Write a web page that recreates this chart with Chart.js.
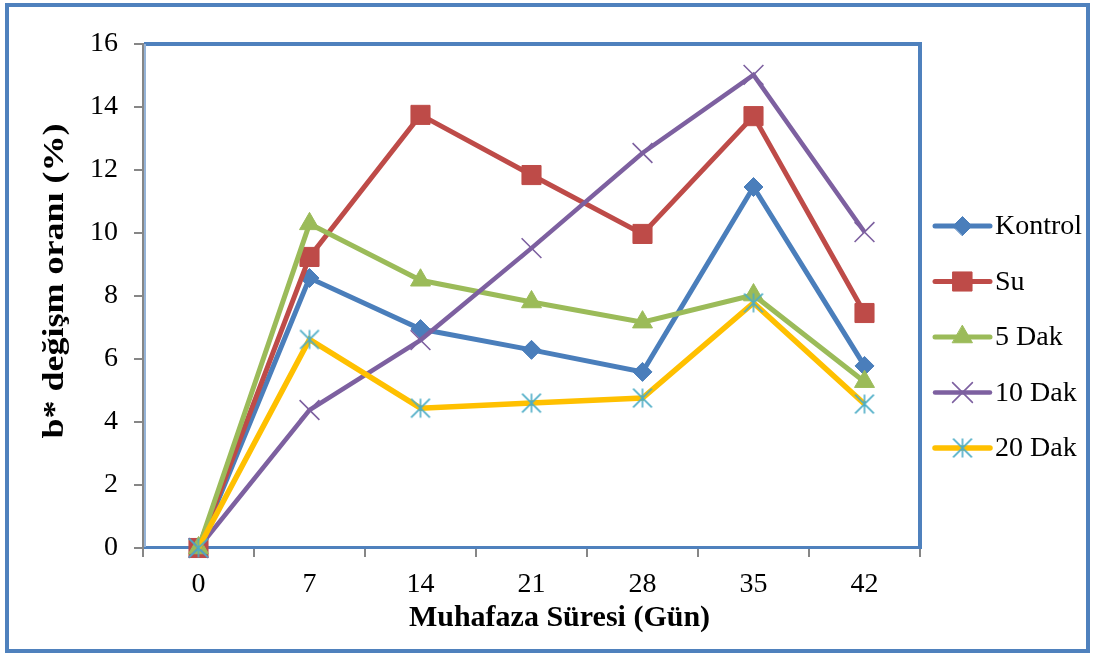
<!DOCTYPE html>
<html>
<head>
<meta charset="utf-8">
<script src="https://cdn.jsdelivr.net/npm/chart.js@4"></script>
<style>
  html, body { margin: 0; padding: 0; background: #ffffff; }
  canvas { display: block; }
</style>
</head>
<body>
<canvas id="chart" width="1094" height="657"></canvas>
<script>
// Storage days (x categories)
const days = ['0', '7', '14', '21', '28', '35', '42'];

// Series names
const seriesNames = ['Kontrol', 'Su', '5 Dak', '10 Dak', '20 Dak'];

// b* change ratio (%) per series
const kontrol = [0, 8.57, 6.95, 6.29, 5.59, 11.46, 5.78];
const su      = [0, 9.24, 13.75, 11.84, 9.97, 13.71, 7.46];
const dak5    = [0, 10.29, 8.50, 7.81, 7.17, 8.03, 5.28];
const dak10   = [0, 4.38, 6.60, 9.52, 12.54, 15.02, 10.03];
const dak20   = [0, 6.62, 4.44, 4.60, 4.76, 7.78, 4.57];

// Y axis range and tick step
const yMin = 0;
const yMax = 16;
const yStep = 2;

// Axis titles
const xTitle = 'Muhafaza Süresi (Gün)';
const yTitle = 'b* değişm oranı (%)';

const FONT = "'Liberation Serif', 'Times New Roman', serif";
Chart.defaults.font.family = FONT;
Chart.defaults.color = '#000000';

// Asterisk marker: vertical stroke plus an X
function makeAsterisk(color, size, lw) {
  const c = document.createElement('canvas');
  c.width = size; c.height = size;
  const g = c.getContext('2d');
  const m = lw, e = size - lw, mid = size / 2;
  g.strokeStyle = color;
  g.lineWidth = lw;
  g.beginPath();
  g.moveTo(mid, m); g.lineTo(mid, e);
  g.moveTo(m, m); g.lineTo(e, e);
  g.moveTo(e, m); g.lineTo(m, e);
  g.stroke();
  return c;
}
const asterisk = makeAsterisk('#4BACC6', 22, 1.6);

const datasets = [
  { label: seriesNames[0], data: kontrol, borderColor: '#4A7EBB', borderWidth: 5,
    pointStyle: 'rectRot', pointRadius: 9.5, pointBorderWidth: 1,
    pointBackgroundColor: '#4A7EBB', pointBorderColor: '#4A7EBB', order: 4 },
  { label: seriesNames[1], data: su, borderColor: '#BE4B48', borderWidth: 5,
    pointStyle: 'rect', pointRadius: 13.5, pointBorderWidth: 1,
    pointBackgroundColor: '#BE4B48', pointBorderColor: '#BE4B48', order: 3 },
  { label: seriesNames[2], data: dak5, borderColor: '#9BBB59', borderWidth: 5,
    pointStyle: 'triangle', pointRadius: 11.5, pointBorderWidth: 1,
    pointBackgroundColor: '#9BBB59', pointBorderColor: '#9BBB59', order: 2 },
  { label: seriesNames[3], data: dak10, borderColor: '#7D60A0', borderWidth: 4.5,
    pointStyle: 'crossRot', pointRadius: 14, pointBorderWidth: 1.6,
    pointBackgroundColor: '#7D60A0', pointBorderColor: '#7D60A0', order: 1 },
  { label: seriesNames[4], data: dak20, borderColor: '#FFC000', borderWidth: 5.5,
    pointStyle: asterisk, pointRadius: 11, pointBorderWidth: 1.6,
    pointBackgroundColor: '#4BACC6', pointBorderColor: '#4BACC6', order: 0 }
].map(d => Object.assign(d, { fill: false, tension: 0, clip: false, backgroundColor: d.borderColor }));

// Legend placement (right of the plot)
const legendLayout = { x0: 935, x1: 990, textX: 995, y0: 226, gap: 55.5 };

function legendMarker(ctx, ds, x, y) {
  const h = Chart.helpers;
  ctx.fillStyle = ds.pointBackgroundColor;
  ctx.strokeStyle = ds.pointBorderColor;
  ctx.lineWidth = ds.pointBorderWidth;
  if (h && h.drawPoint) {
    h.drawPoint(ctx, { pointStyle: ds.pointStyle, rotation: 0, radius: ds.pointRadius, borderWidth: ds.pointBorderWidth }, x, y);
  } else if (ds.pointStyle instanceof HTMLCanvasElement) {
    ctx.drawImage(ds.pointStyle, x - ds.pointStyle.width / 2, y - ds.pointStyle.height / 2);
  }
}

const framePlugin = {
  id: 'frame',
  beforeDraw(chart) {
    const ctx = chart.ctx;
    ctx.save();
    ctx.fillStyle = '#ffffff';
    ctx.fillRect(0, 0, chart.width, chart.height);
    ctx.restore();
  },
  beforeDatasetsDraw(chart) {
    const { ctx, chartArea: a } = chart;
    ctx.save();
    ctx.strokeStyle = '#4F81BD';
    ctx.lineWidth = 4;
    ctx.beginPath();
    ctx.moveTo(a.right, a.top);
    ctx.lineTo(a.right, a.bottom - 0.5);
    ctx.moveTo(a.left + 1, a.top);
    ctx.lineTo(a.right + 2, a.top);
    ctx.stroke();
    ctx.lineWidth = 3;
    ctx.beginPath();
    ctx.moveTo(a.left + 1, a.bottom - 0.5);
    ctx.lineTo(a.right + 2, a.bottom - 0.5);
    ctx.stroke();
    ctx.strokeStyle = '#95B3D7';
    ctx.lineWidth = 2;
    ctx.beginPath();
    ctx.moveTo(a.left + 2, a.top);
    ctx.lineTo(a.left + 2, a.bottom - 1);
    ctx.stroke();
    ctx.restore();
  },
  afterDraw(chart) {
    const { ctx, chartArea: a } = chart;
    ctx.save();
    // outer chart border
    ctx.strokeStyle = '#4F81BD';
    ctx.lineWidth = 4;
    ctx.strokeRect(7, 5, 1081, 646);

    // axis titles
    ctx.fillStyle = '#000000';
    ctx.font = 'bold 30px ' + FONT;
    ctx.textAlign = 'center';
    ctx.textBaseline = 'middle';
    ctx.fillText(xTitle, (a.left + a.right) / 2 + 28, 618);

    ctx.save();
    ctx.translate(55, (a.top + a.bottom) / 2 - 15);
    ctx.scale(1, 1.2);
    ctx.rotate(-Math.PI / 2);
    ctx.fillText(yTitle, 0, 0);
    ctx.restore();

    // legend
    chart.data.datasets.forEach((ds, i) => {
      const y = legendLayout.y0 + i * legendLayout.gap;
      ctx.save();
      ctx.strokeStyle = ds.borderColor;
      ctx.lineWidth = ds.borderWidth;
      ctx.lineCap = 'round';
      ctx.beginPath();
      ctx.moveTo(legendLayout.x0, y);
      ctx.lineTo(legendLayout.x1, y);
      ctx.stroke();
      legendMarker(ctx, ds, (legendLayout.x0 + legendLayout.x1) / 2, y);
      ctx.fillStyle = '#000000';
      ctx.font = '28px ' + FONT;
      ctx.textBaseline = 'middle';
      ctx.textAlign = 'left';
      ctx.fillText(ds.label, legendLayout.textX, y + 1);
      ctx.restore();
    });
    ctx.restore();
  }
};

new Chart(document.getElementById('chart'), {
  type: 'line',
  data: { labels: days, datasets: datasets },
  options: {
    responsive: false,
    animation: false,
    devicePixelRatio: 1,
    events: [],
    layout: { padding: { left: 0, top: 44, right: 174, bottom: 0 } },
    plugins: {
      legend: { display: false },
      tooltip: { enabled: false }
    },
    scales: {
      x: {
        type: 'category',
        offset: true,
        grid: { offset: true, drawOnChartArea: false, drawTicks: true, tickLength: 9, color: '#868686', lineWidth: 2 },
        border: { color: '#868686', width: 2 },
        ticks: { color: '#000000', font: { size: 28 }, padding: 11, maxRotation: 0, autoSkip: false },
        title: { display: false },
        afterFit(s) { s.height = 109; }
      },
      y: {
        min: yMin,
        max: yMax,
        ticks: { stepSize: yStep, color: '#000000', font: { size: 28 }, padding: 16 },
        grid: { drawOnChartArea: false, drawTicks: true, tickLength: 9, color: '#868686', lineWidth: 2 },
        border: { color: '#868686', width: 2 },
        title: { display: false },
        afterFit(s) { s.width = 143; }
      }
    }
  },
  plugins: [framePlugin]
});
</script>
</body>
</html>
